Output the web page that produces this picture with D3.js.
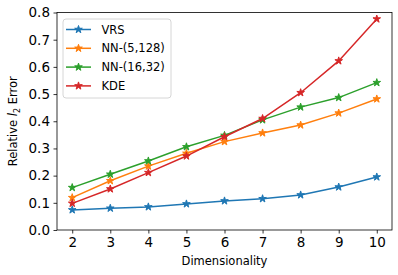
<!DOCTYPE html>
<html>
<head>
<meta charset="utf-8">
<script src="https://cdn.jsdelivr.net/npm/d3@7"></script>
<style>
  body { margin: 0; background: #fff; }
  svg { font-family: "DejaVu Sans", sans-serif; }
</style>
</head>
<body>
<svg id="chart" width="398" height="275"></svg>
<script>
// dimensionality values on the x axis
const dims = [2, 3, 4, 5, 6, 7, 8, 9, 10];

// relative l2 error per method
const vrs = [0.074, 0.080, 0.085, 0.096, 0.107, 0.115, 0.129, 0.158, 0.195];
const nn5_128 = [0.119, 0.181, 0.235, 0.282, 0.325, 0.357, 0.386, 0.430, 0.482];
const nn16_32 = [0.156, 0.205, 0.254, 0.306, 0.348, 0.405, 0.452, 0.487, 0.542];
const kde = [0.098, 0.151, 0.211, 0.272, 0.343, 0.410, 0.505, 0.622, 0.776];

const seriesNames = ["VRS", "NN-(5,128)", "NN-(16,32)", "KDE"];
const seriesColors = ["#1f77b4", "#ff7f0e", "#2ca02c", "#d62728"];
const yTicks = [0, 0.1, 0.2, 0.3, 0.4, 0.5, 0.6, 0.7, 0.8];

const series = [vrs, nn5_128, nn16_32, kde].map((vals, i) => ({
  name: seriesNames[i],
  color: seriesColors[i],
  points: dims.map((d, j) => ({ x: d, y: vals[j] }))
}));

const margin = { left: 57, right: 6, top: 12.5, bottom: 45 };
const W = 398, H = 275;

const svg = d3.select("#chart");

const x = d3.scaleLinear().domain([1.6, 10.4]).range([margin.left, W - margin.right]);
const y = d3.scaleLinear().domain([0, 0.8]).range([H - margin.bottom, margin.top]);

// axes
const xAxis = svg.append("g")
  .attr("transform", "translate(0," + (H - margin.bottom) + ")")
  .call(d3.axisBottom(x).tickValues(dims).tickFormat(d3.format("d")).tickSize(3.5).tickPadding(3.5));

const yAxis = svg.append("g")
  .attr("transform", "translate(" + margin.left + ",0)")
  .call(d3.axisLeft(y).tickValues(yTicks).tickFormat(d3.format(".1f")).tickSize(3.5).tickPadding(3.5));

[xAxis, yAxis].forEach(a => {
  a.attr("font-family", null).attr("font-size", null);
  a.selectAll("text").style("font-family", "DejaVu Sans").style("font-size", "13.5px").attr("fill", "#000");
  a.selectAll("line").attr("stroke", "#000").attr("stroke-width", 0.8);
  a.select(".domain").remove();
});

// frame
svg.append("rect")
  .attr("x", margin.left).attr("y", margin.top)
  .attr("width", W - margin.left - margin.right)
  .attr("height", H - margin.top - margin.bottom)
  .attr("fill", "none").attr("stroke", "#000").attr("stroke-width", 0.8);

// lines and markers
const line = d3.line().x(d => x(d.x)).y(d => y(d.y));
const star = d3.symbol().type(d3.symbolStar).size(18);

series.forEach(s => {
  svg.append("path")
    .datum(s.points)
    .attr("d", line)
    .attr("fill", "none")
    .attr("stroke", s.color)
    .attr("stroke-width", 1.5);

  svg.append("g").selectAll("path")
    .data(s.points)
    .enter().append("path")
    .attr("d", star)
    .attr("transform", d => "translate(" + x(d.x) + "," + y(d.y) + ")")
    .attr("fill", s.color)
    .attr("stroke", s.color)
    .attr("stroke-width", 1);
});

// legend
const legend = svg.append("g").attr("transform", "translate(63,19)");
legend.append("rect")
  .attr("width", 108).attr("height", 79).attr("rx", 3)
  .attr("fill", "#fff").attr("fill-opacity", 0.8)
  .attr("stroke", "#ccc").attr("stroke-width", 0.8);

series.forEach((s, i) => {
  const ly = 10.5 + i * 18.8;
  legend.append("line")
    .attr("x1", 3).attr("x2", 28).attr("y1", ly).attr("y2", ly)
    .attr("stroke", s.color).attr("stroke-width", 1.5);
  legend.append("path")
    .attr("d", star)
    .attr("transform", "translate(15.5," + ly + ")")
    .attr("fill", s.color).attr("stroke", s.color).attr("stroke-width", 1);
  legend.append("text")
    .attr("x", 38.5).attr("y", ly).attr("dy", "0.35em")
    .style("font-size", "11.5px")
    .text(s.name);
});

// axis labels
svg.append("text")
  .attr("x", (margin.left + W - margin.right) / 2)
  .attr("y", 265)
  .attr("text-anchor", "middle")
  .style("font-size", "11.5px")
  .text("Dimensionality");

const yl = svg.append("text")
  .attr("transform", "translate(17," + ((margin.top + H - margin.bottom) / 2) + ") rotate(-90)")
  .attr("text-anchor", "middle")
  .style("font-size", "11.5px");
yl.append("tspan").text("Relative ");
yl.append("tspan").attr("font-style", "italic").text("l");
yl.append("tspan").style("font-size", "8px").attr("dy", 3).text("2");
yl.append("tspan").attr("dy", -3).text(" Error");
</script>
</body>
</html>
